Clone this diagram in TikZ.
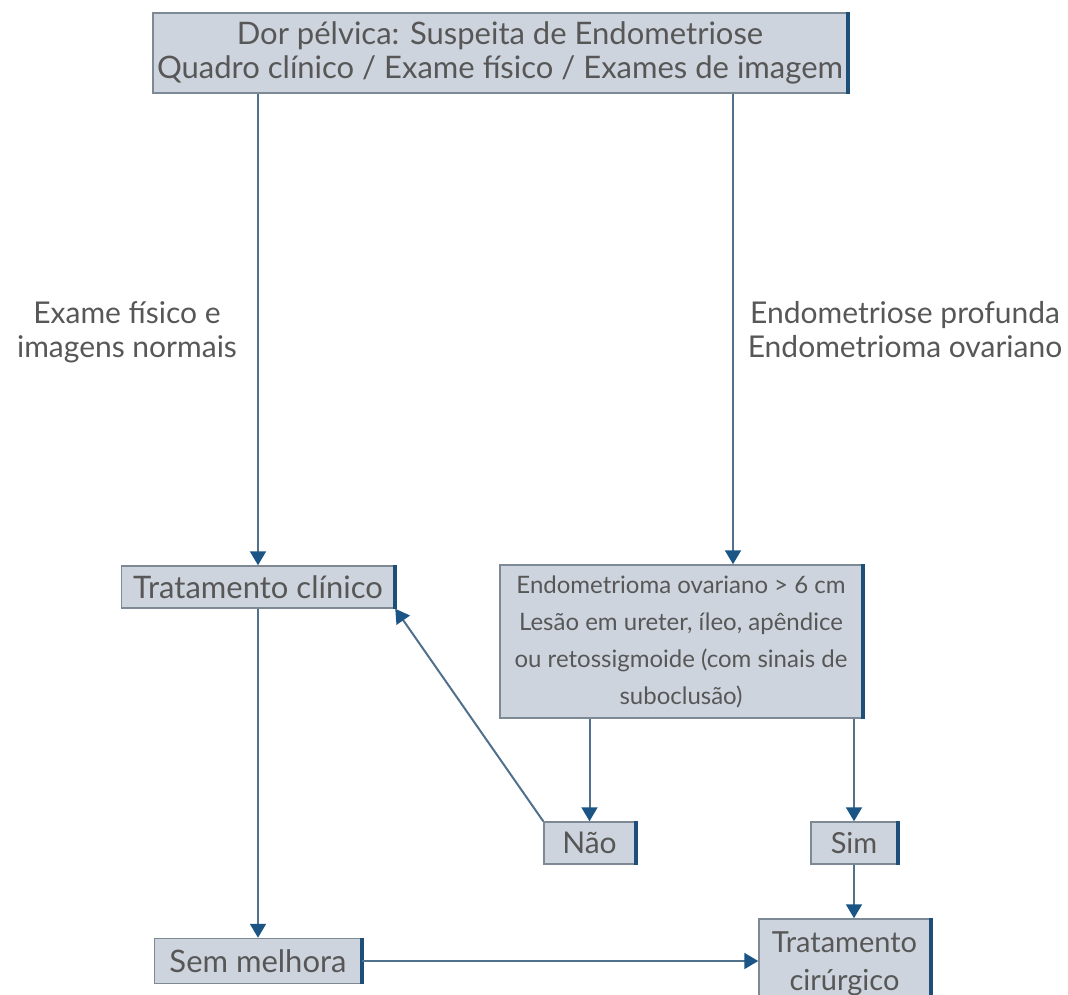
\documentclass[tikz,border=0pt]{standalone}
\usepackage{fontspec}
\setmainfont{Lato}
\usetikzlibrary{arrows.meta}
\definecolor{boxfill}{HTML}{CED4DD}
\definecolor{boxline}{HTML}{7D8A96}
\definecolor{edgeblue}{HTML}{1E4F78}
\definecolor{linkcol}{HTML}{50708C}
\definecolor{tipcol}{HTML}{1A5585}
\definecolor{txt}{HTML}{575757}
\tikzset{
  caixa/.style={draw=boxline, line width=1.5pt, fill=boxfill, text=txt, align=center, inner sep=0pt, font=\fontsize{30}{34}\selectfont},
  seta/.style={draw=linkcol, line width=2pt, -{Triangle[width=16pt,length=14pt,color=tipcol]}},
  rotulo/.style={text=txt, align=center, font=\fontsize{30}{34}\selectfont}
}

\begin{document}
\begin{tikzpicture}[x=1pt,y=-1pt]
    \useasboundingbox (0,0) rectangle (1068,995);
    \clip (0,0) rectangle (1068,995);

    \node[caixa, minimum width=694, minimum height=80, font=\fontsize{31}{34}\selectfont] (topo) at (500,53) {Dor pélvica: Suspeita de Endometriose\\Quadro clínico / Exame físico / Exames de imagem};
    \node[caixa, minimum width=273, minimum height=42, font=\fontsize{31}{34}\selectfont] (clin) at (258,587) {Tratamento clínico};
    \node[caixa, minimum width=362, minimum height=153, font=\fontsize{24}{37}\selectfont] (endo) at (681,641.5) {Endometrioma ovariano > 6 cm\\Lesão em ureter, íleo, apêndice\\ou retossigmoide (com sinais de\\suboclusão)};
    \node[caixa, minimum width=91, minimum height=42] (nao) at (589.5,843) {Não};
    \node[caixa, minimum width=86, minimum height=42, font=\fontsize{29}{34}\selectfont] (sim) at (854,843) {Sim};
    \node[caixa, minimum width=207, minimum height=45, font=\fontsize{31}{34}\selectfont] (sem) at (258,961) {Sem melhora};
    \node[caixa, minimum width=171, minimum height=90, font=\fontsize{29}{38}\selectfont] (cir) at (844.5,964) {Tratamento\\cirúrgico};

    \node[rotulo] (normal) at (127,332) {Exame físico e\\imagens normais};
    \node[rotulo] (profunda) at (905,330) {Endometriose profunda\\Endometrioma ovariano};

    \foreach \n in {topo,clin,endo,nao,sim,sem,cir}
        \draw[edgeblue, line width=4pt] (\n.north east) -- (\n.south east);

    \draw[seta] (topo.south -| clin.north) -- (clin.north);
    \draw[seta] ([xshift=52]topo.south -| endo.north) -- ([xshift=52]endo.north);
    \draw[seta] (endo.south -| nao.north) -- (nao.north);
    \draw[seta] (endo.south -| sim.north) -- (sim.north);
    \draw[seta] (nao.north west) -- (clin.south east);
    \draw[seta] (clin.south) -- (sem.north);
    \draw[seta] (sim.south) -- (sim.south |- cir.north);
    \draw[seta] (sem.east) -- (sem.east -| cir.west);

\end{tikzpicture}
\end{document}
